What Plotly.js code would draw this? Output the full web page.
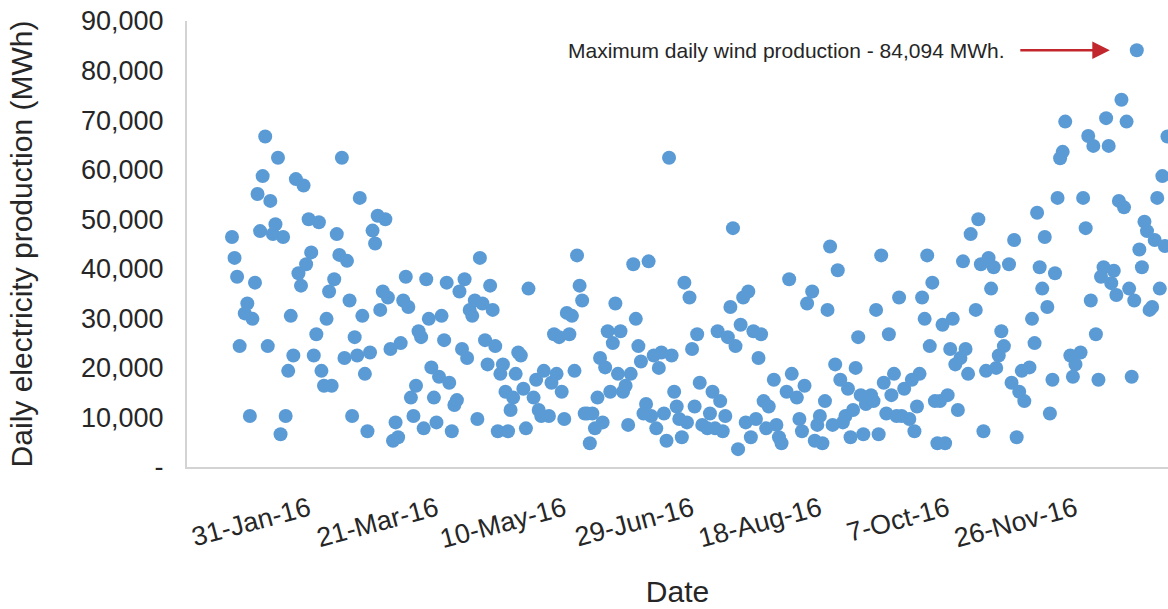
<!DOCTYPE html>
<html>
<head>
<meta charset="utf-8">
<script src="https://cdn.plot.ly/plotly-3.0.1.min.js"></script>
<style>
  html, body { margin: 0; padding: 0; background: #ffffff; }
  #chart { width: 1168px; height: 609px; }
</style>
</head>
<body>
<div id="chart"></div>
<script>
// Day offsets from 1 January 2016 (0 = 1-Jan-16) of each visible daily point
const dayOffset = [
  0,1,2,3,5,6,7,8,9,10,11,12,13,14,15,16,17,18,19,20,21,22,23,24,25,26,27,28,29,30,31,32,33,34,35,36,37,38,39,40,41,42,43,44,45,
  46,47,48,49,50,51,52,53,54,55,56,57,58,59,60,61,62,63,64,65,66,67,68,69,70,71,72,73,74,75,76,77,78,79,80,81,82,83,84,85,86,87,88,89,90,91,
  92,93,94,95,96,97,98,99,100,101,102,103,104,105,106,107,108,109,110,111,112,113,114,115,116,
  118,119,120,121,122,
  124,125,126,127,128,129,130,131,132,133,134,135,136,137,138,
  139,140,141,142,143,144,145,146,147,148,149,150,151,152,153,154,155,156,157,158,159,160,161,162,163,164,165,166,167,168,169,170,171,172,173,174,175,176,177,178,179,180,181,182,183,184,
  186,187,188,189,190,191,192,193,194,195,196,197,198,199,200,201,202,203,204,205,206,207,208,209,210,
  212,213,214,215,217,218,219,221,222,223,224,225,227,228,229,230,231,232,
  233,234,235,236,237,238,239,240,241,242,243,244,245,246,247,248,
  250,251,252,253,254,255,256,257,258,259,260,261,262,263,
  265,266,267,268,269,270,271,272,273,274,275,276,277,278,279,280,281,282,283,284,285,286,287,288,289,
  291,292,293,294,295,296,297,298,299,300,301,302,
  304,305,306,307,308,309,310,
  312,313,314,315,316,317,318,319,320,321,322,323,324,325,326,
  328,329,330,
  332,333,334,335,336,337,338,339,340,341,342,343,344,345,346,347,348,349,350,351,352,353,354,355,356,357,358,359,360,361,362,363,364,365,366
];

// Daily electricity production (MWh)
const production = [
  46400,42200,38400,24400,31000,33000,10300,29900,37200,55100,47600,58700,66700,24400,53700,47000,49000,62400,6600,46400,10300,19400,30500,22500,58100,39100,36600,56800,40900,50000,43300,22500,26800,49400,19400,16400,29900,35400,16400,37900,47000,42800,62400,22000,41600,
  33600,10300,26200,22500,54300,30500,18800,7200,23100,47700,45100,50700,31700,35400,50000,34200,23800,5300,9000,6000,25000,33600,38400,32300,14000,10300,16400,27400,26200,7800,37900,29900,20100,14000,9000,18200,30500,25600,37200,17000,7200,12500,13500,35400,23800,37900,
  22000,31700,30500,33600,9700,42200,33000,25600,20700,36600,31700,24400,7200,18800,20700,15200,7200,11500,14000,18800,23100,22500,15800,7800,36000,
  14000,17600,11500,10300,19400,
  10300,17000,26800,18800,26200,15200,9700,31100,26800,30500,19400,42700,36600,33600,10800,
  10800,4800,10800,7800,14000,22000,9000,20100,27400,15200,25000,33000,18800,27400,15200,16400,8500,18800,40900,29900,24400,21300,10800,12700,41500,10300,22500,7800,20000,23100,10800,5300,62400,22500,15200,12200,9700,6000,37200,9000,34200,23800,12200,26800,17000,8500,
  7800,10800,15200,7800,27400,13300,7200,10300,26200,32300,48200,24400,3600,28700,34200,9000,35400,6000,27400,9700,22000,26800,13300,7800,12200,
  17600,8500,6000,4800,15200,37900,18800,14000,9700,7200,16400,33000,35400,5300,8500,10300,4800,13300,
  31700,44500,8500,20700,39700,17600,9000,10300,15800,6000,11500,20000,26200,14500,6600,12700,
  14500,13300,31700,6600,42700,17000,10800,26800,14500,18800,10300,34200,10300,15800,
  9700,17600,7200,12200,18800,34200,29900,42700,24400,37200,13300,4800,13300,28700,4800,14500,23800,29900,20700,11500,22000,41500,23800,18800,47000,
  31700,50000,40900,7200,19400,42200,36000,40300,20000,22500,27400,24400,
  40900,17000,45800,6000,15200,19400,13300,
  20100,29900,25000,51300,40300,36000,46400,32300,10800,17600,39100,54300,62300,63600,69700,
  22500,18200,20700,
  23100,54300,48200,66800,33600,64800,26800,17600,38400,40300,70400,64800,37100,39600,34700,53700,74100,52400,69700,36000,18200,33600,84094,43900,40300,49500,47600,31700,32300,45800,54300,36000,58700,44600,66700
];

const xTickDates  = ['2016-01-31','2016-03-21','2016-05-10','2016-06-29','2016-08-18','2016-10-07','2016-11-26'];
const xTickLabels = ['31-Jan-16','21-Mar-16','10-May-16','29-Jun-16','18-Aug-16','7-Oct-16','26-Nov-16'];
const yTickValues = [0,10000,20000,30000,40000,50000,60000,70000,80000,90000];
const yTickLabels = ['-','10,000','20,000','30,000','40,000','50,000','60,000','70,000','80,000','90,000'];
const annotationText = 'Maximum daily wind production - 84,094 MWh.';

function toDate(offset) {
  const d = new Date(Date.UTC(2016, 0, 1) + offset * 86400000);
  return d.toISOString().slice(0, 10);
}
const dates = dayOffset.map(toDate);

let maxIdx = 0;
production.forEach((v, i) => { if (v > production[maxIdx]) maxIdx = i; });
const maxDate = dates[maxIdx];
const maxVal = production[maxIdx];

const FONT = '"Liberation Sans", Arial, Helvetica, sans-serif';
const TEXT = '#262626';

const trace = {
  type: 'scatter',
  mode: 'markers',
  x: dates,
  y: production,
  marker: { color: '#5B9BD5', size: 14, line: { width: 0 } },
  hoverinfo: 'x+y'
};

const layout = {
  width: 1168,
  height: 609,
  margin: { l: 187, r: 0, t: 21, b: 142, pad: 0 },
  paper_bgcolor: '#ffffff',
  plot_bgcolor: '#ffffff',
  showlegend: false,
  font: { family: FONT, color: TEXT },
  xaxis: {
    type: 'date',
    range: ['2015-12-14 09:36:00', '2017-01-01 05:00:00'],
    tickvals: xTickDates,
    ticktext: xTickLabels,
    tickangle: -15,
    tickfont: { size: 27, family: FONT, color: TEXT },
    ticks: '',
    ticklabelstandoff: 14,
    showgrid: false,
    zeroline: false,
    showline: true,
    linecolor: '#d3d3d3',
    linewidth: 2,
    automargin: false,
    title: { text: 'Date', font: { size: 30, family: FONT, color: TEXT }, standoff: 28 }
  },
  yaxis: {
    range: [0, 90000],
    tickvals: yTickValues,
    ticktext: yTickLabels,
    tickfont: { size: 27, family: FONT, color: TEXT },
    ticks: '',
    ticklabelstandoff: 16,
    showgrid: false,
    zeroline: false,
    showline: true,
    linecolor: '#d3d3d3',
    linewidth: 2,
    automargin: false,
    title: { text: 'Daily electricity production (MWh)', font: { size: 30, family: FONT, color: TEXT }, standoff: 40 }
  },
  annotations: [
    {
      x: maxDate, y: maxVal, xref: 'x', yref: 'y',
      text: annotationText,
      showarrow: false,
      xanchor: 'right', yanchor: 'middle',
      xshift: -130,
      font: { size: 21, family: FONT, color: TEXT }
    },
    {
      x: maxDate, y: maxVal, xref: 'x', yref: 'y',
      text: '',
      showarrow: true,
      arrowhead: 2,
      arrowsize: 1.4,
      arrowwidth: 2.5,
      arrowcolor: '#C1272D',
      ax: -118, ay: 0,
      standoff: 27
    }
  ]
};

Plotly.newPlot('chart', [trace], layout, { displayModeBar: false, staticPlot: true });
</script>
</body>
</html>
